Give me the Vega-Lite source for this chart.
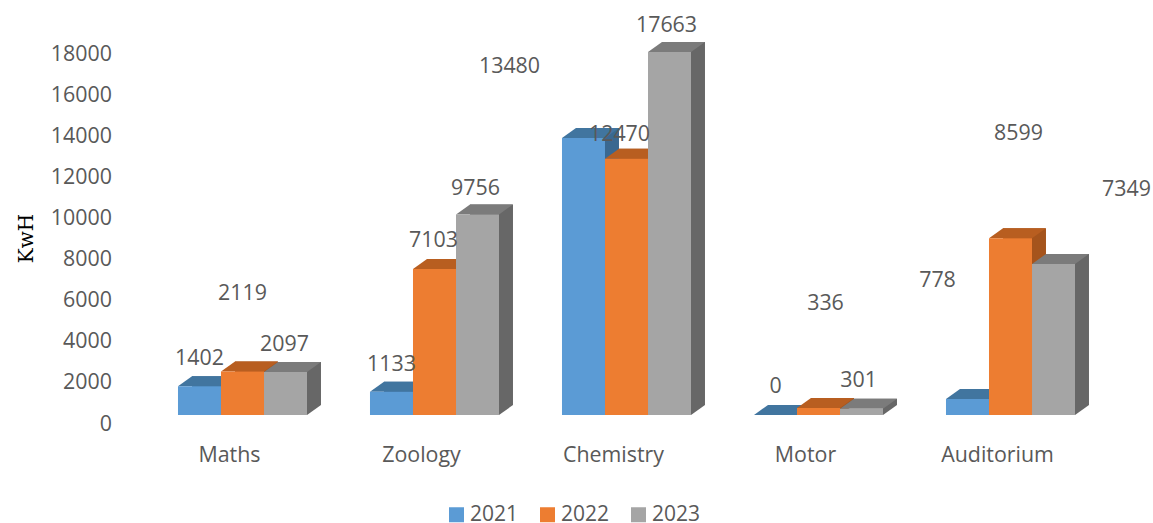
{
  "$schema": "https://vega.github.io/schema/vega-lite/v6.json",
  "width": 960,
  "height": 370,
  "autosize": {"type": "none"},
  "padding": {"left": 146.5, "top": 45, "right": 46.5, "bottom": 108},
  "background": "white",
  "view": {"stroke": null},
  "data": {"values": [
    {"building": "Maths", "year": "2021", "kwh": 1402},
    {"building": "Maths", "year": "2022", "kwh": 2119},
    {"building": "Maths", "year": "2023", "kwh": 2097},
    {"building": "Zoology", "year": "2021", "kwh": 1133},
    {"building": "Zoology", "year": "2022", "kwh": 7103},
    {"building": "Zoology", "year": "2023", "kwh": 9756},
    {"building": "Chemistry", "year": "2021", "kwh": 13480},
    {"building": "Chemistry", "year": "2022", "kwh": 12470},
    {"building": "Chemistry", "year": "2023", "kwh": 17663},
    {"building": "Motor", "year": "2021", "kwh": 0},
    {"building": "Motor", "year": "2022", "kwh": 336},
    {"building": "Motor", "year": "2023", "kwh": 301},
    {"building": "Auditorium", "year": "2021", "kwh": 778},
    {"building": "Auditorium", "year": "2022", "kwh": 8599},
    {"building": "Auditorium", "year": "2023", "kwh": 7349}
  ]},
  "encoding": {
    "x": {"field": "building", "type": "nominal", "sort": null,
      "scale": {"paddingInner": 0.328, "paddingOuter": 0.164},
      "axis": {"title": null, "domain": false, "ticks": false, "labelAngle": 0, "labelOffset": -13, "labelPadding": 29, "labelFont": "Open Sans", "labelFontSize": 21.4, "labelColor": "#595959"}},
    "y": {"field": "kwh", "type": "quantitative",
      "scale": {"domain": [0, 18000], "nice": false},
      "axis": {"title": "KwH", "domain": false, "ticks": false, "grid": false, "values": [0,2000,4000,6000,8000,10000,12000,14000,16000,18000], "format": "d", "labelOffset": 9, "labelPadding": 35, "labelFont": "Open Sans", "labelFontSize": 21.4, "labelColor": "#595959", "titleFont": "DejaVu Serif", "titleFontSize": 20, "titleFontWeight": "normal", "titleColor": "#000000", "titleX": -110, "titleY": 193}}
  },
  "layer": [
    {"mark": {"type": "bar", "yOffset": -10, "y2Offset": -10},
      "encoding": {"xOffset": {"field": "year", "type": "nominal", "sort": null, "scale": {"range": [14, 143]}},
        "color": {"field": "year", "type": "nominal", "legend": null, "scale": {"range": ["#3a6890", "#a5541c", "#676767"]}}}},
    {"mark": {"type": "point", "filled": true, "opacity": 1, "size": 4, "strokeWidth": 0, "shape": "M21.5 0L21.5 -10L35.5 -10Z"},
      "encoding": {"xOffset": {"field": "year", "type": "nominal", "sort": null}, "y": {"datum": 0}, "color": {"field": "year", "type": "nominal", "legend": null, "scale": {"range": ["#3a6890", "#a5541c", "#676767"]}}}},
    {"mark": {"type": "point", "filled": true, "opacity": 1, "size": 4, "strokeWidth": 0, "shape": "M-21.5 0L-7.5 -10L35.5 -10L21.5 0Z"},
      "encoding": {"xOffset": {"field": "year", "type": "nominal", "sort": null}, "color": {"field": "year", "type": "nominal", "legend": null, "scale": {"range": ["#41759f", "#b85e20", "#7b7b7b"]}}}},
    {"mark": {"type": "bar"},
      "encoding": {"xOffset": {"field": "year", "type": "nominal", "sort": null}, "color": {"field": "year", "type": "nominal", "scale": {"range": ["#5b9bd5", "#ed7d31", "#a5a5a5"]},
        "legend": {"orient": "none", "legendX": 299.5, "legendY": 459, "direction": "horizontal", "title": null, "symbolType": "square", "symbolSize": 225, "symbolStrokeWidth": 0, "labelFont": "Open Sans", "labelFontSize": 21, "labelColor": "#595959", "labelOffset": 3, "columnPadding": 18, "labelLimit": 100}}}},
    {"mark": {"type": "text", "font": "Open Sans", "fontSize": 21.4, "color": "#595959",
        "dx": {"expr": "{'Chemistry2021': -74, 'Chemistry2022': -7, 'Chemistry2023': -3, 'Motor2022': 7, 'Motor2023': -3, 'Auditorium2021': -30, 'Auditorium2022': 8, 'Auditorium2023': 73, 'Zoology2023': -2, 'Maths2023': -1, 'Zoology2022': -1}[datum.building + datum.year] || 0"},
        "dy": {"expr": "{'Maths2021': -27, 'Maths2022': -77, 'Maths2023': -27, 'Zoology2021': -27, 'Zoology2022': -28, 'Zoology2023': -25, 'Chemistry2021': -71, 'Chemistry2022': -24, 'Chemistry2023': -26, 'Motor2021': -28, 'Motor2022': -104, 'Motor2023': -28, 'Auditorium2021': -118, 'Auditorium2022': -104, 'Auditorium2023': -74}[datum.building + datum.year]"}},
      "encoding": {"xOffset": {"field": "year", "type": "nominal", "sort": null}, "text": {"field": "kwh", "type": "quantitative", "format": "d"}}}
  ],
  "resolve": {"scale": {"color": "independent", "xOffset": "independent"}}
}
